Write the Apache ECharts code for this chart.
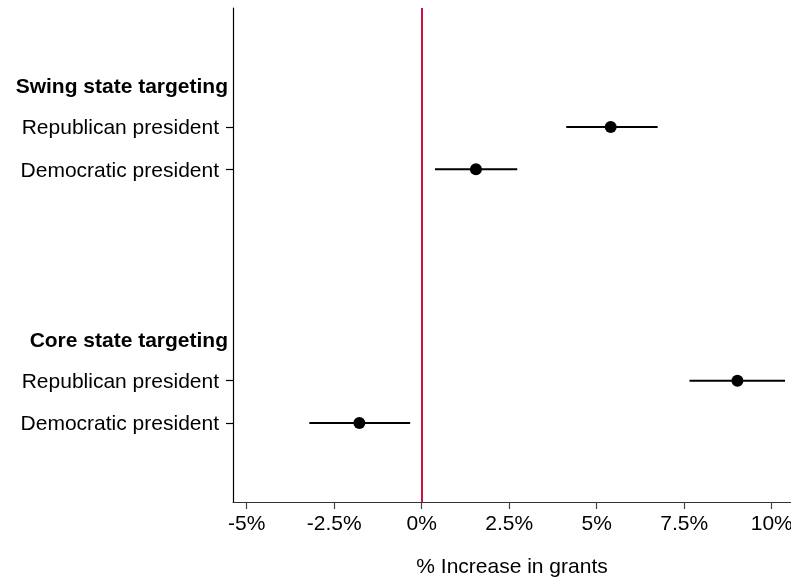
<!DOCTYPE html>
<html>
<head>
<meta charset="utf-8">
<script src="https://cdn.jsdelivr.net/npm/echarts@6/dist/echarts.min.js"></script>
<style>
html,body{margin:0;padding:0;background:#fff;}
#chart{width:791px;height:579px;}
</style>
</head>
<body>
<div id="chart"></div>
<script>
// Data
const groups = ["Swing state targeting", "Core state targeting"];
const rowNames = ["Republican president", "Democratic president"];
// estimates per group: [Republican, Democratic] (percent)
const swingEst = [5.40, 1.55];
const swingLow = [4.13, 0.38];
const swingHigh = [6.74, 2.73];
const coreEst = [9.02, -1.78];
const coreLow = [7.65, -3.21];
const coreHigh = [10.38, -0.33];
const xTicks = [-5, -2.5, 0, 2.5, 5, 7.5, 10];
const xTitle = "% Increase in grants";

const est = [swingEst, coreEst];
const low = [swingLow, coreLow];
const high = [swingHigh, coreHigh];

// slots on the vertical axis
const GROUP_STEP = 6;
const labelMap = {};
const headerSlots = [];
const rowSlots = [];
const points = [];
const bars = [];
groups.forEach((g, gi) => {
  const hs = gi * GROUP_STEP;
  headerSlots.push(hs);
  labelMap[hs] = { text: g, header: true };
  rowNames.forEach((r, ri) => {
    const s = hs + ri + 1;
    rowSlots.push(s);
    labelMap[s] = { text: r, header: false };
    points.push([est[gi][ri], s]);
    bars.push([low[gi][ri], high[gi][ri], s]);
  });
});
const allSlots = headerSlots.concat(rowSlots).sort((a, b) => a - b);

const FONT = "Liberation Sans";
const FS = 21;
const chart = echarts.init(document.getElementById('chart'));
chart.setOption({
  animation: false,
  backgroundColor: '#fff',
  grid: { left: 233, right: 0, top: 8, bottom: 77, containLabel: false, outerBoundsMode: 'none' },
  xAxis: {
    type: 'value',
    min: -5.39, max: 10.55,
    splitLine: { show: false },
    axisLine: { show: true, onZero: false, lineStyle: { color: '#333', width: 1.2 } },
    axisTick: { show: true, customValues: xTicks, length: 7, lineStyle: { color: '#444', width: 1.2 } },
    axisLabel: {
      customValues: xTicks, color: '#000', fontFamily: FONT, fontSize: FS, margin: 12,
      formatter: v => v + '%'
    },
    name: xTitle, nameLocation: 'middle', nameGap: 55,
    nameTextStyle: { color: '#000', fontFamily: FONT, fontSize: FS }
  },
  yAxis: {
    type: 'value', inverse: true,
    min: -1.814, max: 9.87,
    splitLine: { show: false },
    axisLine: { show: true, onZero: false, lineStyle: { color: '#000', width: 1.2 } },
    axisTick: { show: true, customValues: rowSlots, length: 7, lineStyle: { color: '#000', width: 1.2 } },
    axisLabel: {
      customValues: allSlots, margin: 5,
      formatter: v => {
        const l = labelMap[v];
        if (!l) return '';
        return l.header ? '{h|' + l.text + '}' : '{r|' + l.text + '}';
      },
      rich: {
        h: { fontFamily: FONT, fontSize: FS, fontWeight: 'bold', color: '#000', padding: [6, 0, 0, 0] },
        r: { fontFamily: FONT, fontSize: FS, color: '#000', padding: [3, 9, 0, 0] }
      }
    }
  },
  series: [
    {
      type: 'custom',
      data: bars,
      encode: { x: [0, 1], y: 2 },
      renderItem: (params, api) => {
        const a = api.coord([api.value(0), api.value(2)]);
        const b = api.coord([api.value(1), api.value(2)]);
        return {
          type: 'line',
          shape: { x1: a[0], y1: a[1], x2: b[0], y2: b[1] },
          style: { stroke: '#000', lineWidth: 2 }
        };
      },
      z: 3
    },
    {
      type: 'scatter',
      data: points,
      symbol: 'circle',
      symbolSize: 12,
      itemStyle: { color: '#000', opacity: 1 },
      z: 4,
      markLine: {
        silent: true, symbol: 'none', label: { show: false },
        lineStyle: { color: '#D0103F', width: 2, type: 'solid' },
        data: [{ xAxis: 0 }]
      }
    }
  ]
});
</script>
</body>
</html>
